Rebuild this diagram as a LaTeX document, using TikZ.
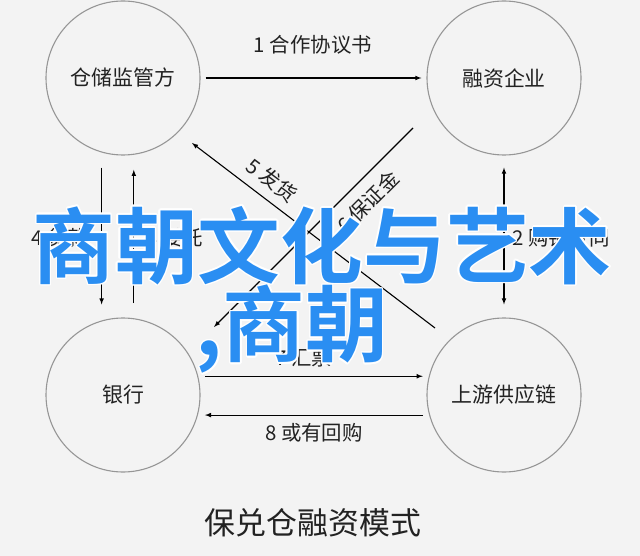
\documentclass[tikz,border=0pt]{standalone}
\usepackage{fontspec}
\usepackage{contour}
\usepackage{tikz}
\usetikzlibrary{arrows, positioning, calc}
\newfontfamily\cjk{Noto Sans CJK SC}
\newfontfamily\cjkbold{Noto Sans CJK SC Bold}
\definecolor{bggray}{RGB}{243,243,243}
\definecolor{ringgray}{RGB}{150,150,150}
\definecolor{inkgray}{RGB}{34,34,34}
\definecolor{titleblue}{RGB}{42,142,242}
\contourlength{1.4pt}

\begin{document}
\begin{tikzpicture}[x=1bp, y=-1bp,
  party/.style={draw=ringgray, line width=1.1bp, circle, minimum size=154bp, inner sep=0pt,
    text=inkgray, font=\cjk\fontsize{21}{25}\selectfont},
  flow/.style={-latex, line width=1.1bp, black},
  lbl/.style={text=inkgray, inner sep=1bp, font=\cjk\fontsize{20.5}{24}\selectfont},
  banner/.style={text=titleblue, inner sep=0pt, font=\cjkbold\fontsize{83}{90}\selectfont}]
% background and page size
\fill[bggray] (0,0) rectangle (640,556);
\useasboundingbox (0,0) rectangle (640,556);

% the four parties
\node[party] (ccgl) at (123,78) {仓储监管方};
\node[party] (rzqy) at (504,78) {融资企业};
\node[party] (yh) at (123,395) {银行};
\node[party] (sy) at (504,395) {上游供应链};

% free ends of the diagonals
\coordinate (fh-a) at (435,328);
\coordinate (fh-b) at (192,143);
\coordinate (bzj-a) at (413,128);
\coordinate (bzj-b) at (214,327);

% horizontal flows
\draw[flow, shorten <=5bp, shorten >=5bp] (ccgl) -- (rzqy);
\node[lbl] (l1) at (313,45) {1 合作协议书};
\draw[flow, shorten <=7bp, shorten >=6bp] (yh.14) -- (sy.166);
\node[lbl] (l7) at (304,358) {7 汇票};
\draw[flow, shorten <=6bp, shorten >=7bp] (sy.-165) -- (yh.-15);
\node[lbl] (l8) at (314,433) {8 或有回购};

% vertical flows
\draw[flow, shorten <=15bp, shorten >=16bp] (ccgl.254) -- (yh.106);
\node[lbl] (l4) at (60,238) {4 贷款};
\draw[flow, shorten <=15bp, shorten >=15bp] (yh.82) -- (ccgl.-82);
\node[lbl] (l3) at (175,238) {3 委托};
\draw[latex-latex, line width=1.1bp, shorten <=12bp, shorten >=13bp] (rzqy.south) -- (sy.north);
\node[lbl, anchor=west] (l2) at (511,238) {2 购销合同};

% diagonal flows
\draw[flow] (fh-a) -- (fh-b);
\node[lbl, rotate=-37] (l5) at (272,180) {5 发货};
\draw[flow] (bzj-a) -- (bzj-b);
\node[lbl, rotate=45] (l6) at (368,202) {6 保证金};

% caption
\node[lbl, font=\cjk\fontsize{31}{36}\selectfont] (cap) at (313,523) {保兑仓融资模式};

% overlaid title
\node[banner] (t1) at (322,246) {\contour{white}{商朝文化与艺术}};
\node[banner] (t2) at (292,330) {\contour{white}{,商朝}};
\end{tikzpicture}
\end{document}
